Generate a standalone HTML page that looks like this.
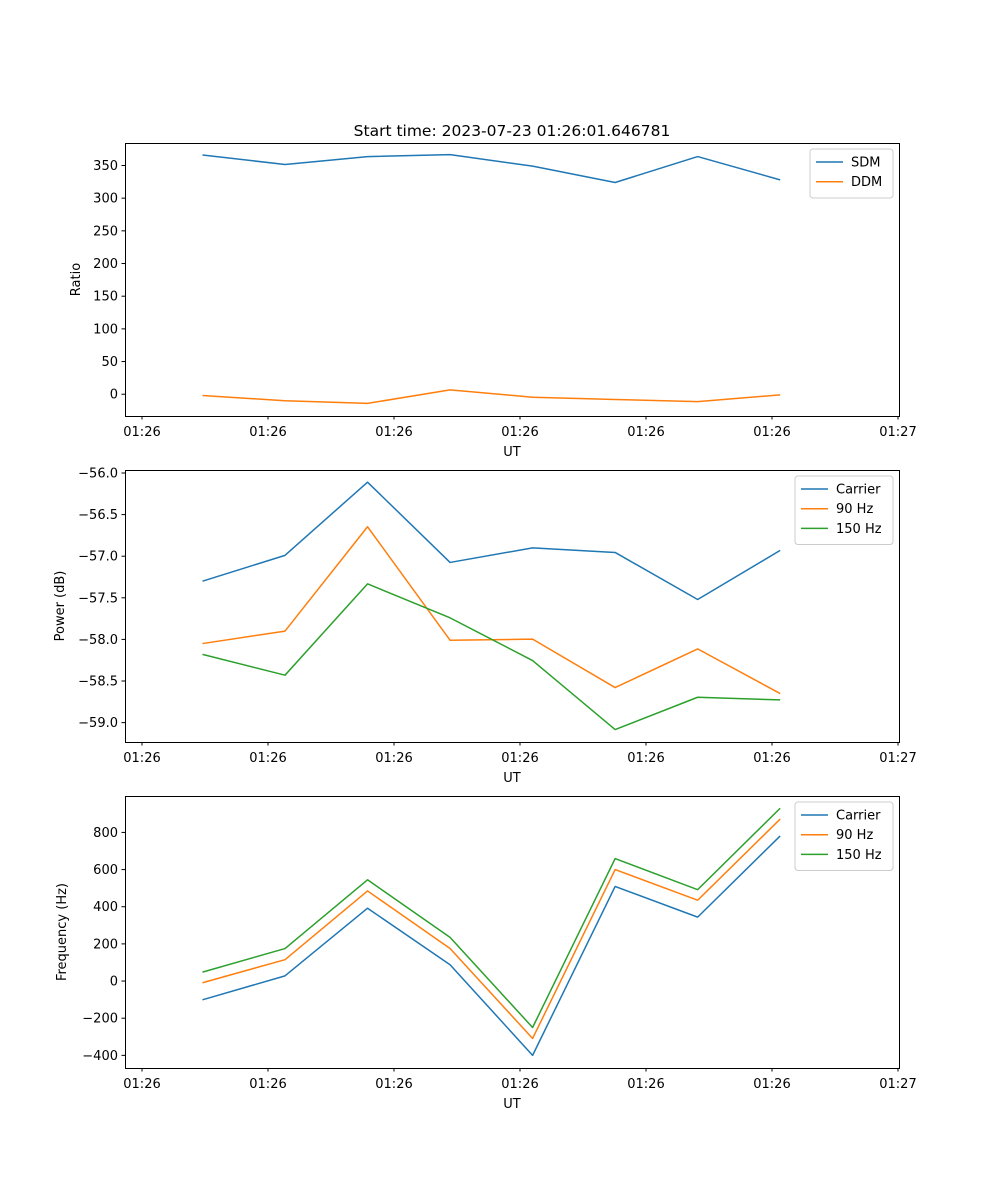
<!DOCTYPE html>
<html><head><meta charset="utf-8"><style>
body{margin:0;background:#fff}
svg{display:block;font-family:"DejaVu Sans","Liberation Sans",sans-serif}
</style></head><body>
<svg id="fig" width="1000" height="1200" viewBox="0 0 1000 1200">
<rect width="1000" height="1200" fill="#fff"/>
<text x="512" y="136" font-size="15.5" text-anchor="middle" fill="#000">Start time: 2023-07-23 01:26:01.646781</text>
</svg>
<script>
const times = [4.8, 11.35, 17.9, 24.45, 31.0, 37.55, 44.1, 50.65];
const xTickVals = [0, 10, 20, 30, 40, 50, 60];
const xTickLabels = ["01:26","01:26","01:26","01:26","01:26","01:26","01:27"];
const sdm = [366, 351.5, 363.6, 366.6, 349, 324, 363.6, 328];
const ddm = [-2, -10, -14, 6.7, -4.6, -8, -11.3, -1];
const powCarrier = [-57.30, -56.99, -56.11, -57.075, -56.90, -56.955, -57.52, -56.93];
const pow90 = [-58.05, -57.90, -56.646, -58.01, -57.997, -58.579, -58.114, -58.651];
const pow150 = [-58.18, -58.43, -57.332, -57.741, -58.254, -59.084, -58.695, -58.727];
const freqCarrier = [-101, 28, 392, 88, -400, 509, 344, 781];
const freq90 = [-9, 115, 485, 175, -309, 600, 435, 872];
const freq150 = [48, 175, 545, 235, -250, 659, 492, 930];
const ratioTicks = [0, 50, 100, 150, 200, 250, 300, 350];
const powerTicks = [-59.0, -58.5, -58.0, -57.5, -57.0, -56.5, -56.0];
const freqTicks = [-400, -200, 0, 200, 400, 600, 800];

const NS = "http://www.w3.org/2000/svg";
const svg = document.getElementById("fig");
function mk(tag, attrs, parent) {
  const e = document.createElementNS(NS, tag);
  for (const k in attrs) e.setAttribute(k, attrs[k]);
  (parent || svg).appendChild(e);
  return e;
}
const X0 = 125, X1 = 899, xMin = -1.35, xMax = 60.08;
function xs(t) { return X0 + (t - xMin) / (xMax - xMin) * (X1 - X0); }

function panel(cfg) {
  const g = mk("g", {});
  
  
  const ys = v => cfg.y1 - (v - cfg.min) / (cfg.max - cfg.min) * (cfg.y1 - cfg.y0);
  cfg.ticks.forEach((v, i) => {
    const y = ys(v);
    const l = mk("line", {x1: X0 - 3.5, x2: X0, y1: y, y2: y, stroke: "#000", "stroke-width": 1}, g);
    
    
    const t = mk("text", {x: X0 - 7, y: y + 4.5, "font-size": 13, "text-anchor": "end"}, g);
    
    
    t.textContent = cfg.fmt(v).replace("-", "\u2212");
  });
  xTickVals.forEach((v, i) => {
    const x = xs(v);
    const l = mk("line", {x1: x, x2: x, y1: cfg.y1, y2: cfg.y1 + 3.5, stroke: "#000", "stroke-width": 1}, g);
    
    
    const t = mk("text", {x: x, y: cfg.y1 + 20, "font-size": 13, "text-anchor": "middle"}, g);
    
    
    t.textContent = xTickLabels[i];
  });
  const xl = mk("text", {x: 512, y: cfg.y1 + 40, "font-size": 13, "text-anchor": "middle"}, g);
  
  
  xl.textContent = "UT";
  const cy = (cfg.y0 + cfg.y1) / 2;
  const yl = mk("text", {x: cfg.ylx, y: cy, "font-size": 13, "text-anchor": "middle", transform: `rotate(-90 ${cfg.ylx} ${cy})`}, g);
  
  
  yl.textContent = cfg.ylabel;
  cfg.series.forEach(s => {
    const p = mk("polyline", {points: s.data.map((v, i) => xs(times[i]).toFixed(2) + "," + ys(v).toFixed(2)).join(" "), fill: "none", stroke: s.color, "stroke-width": 1.5, "stroke-linejoin": "round"}, g);
    
    
  });
  const f = mk("rect", {x: X0 + 0.5, y: cfg.y0 + 0.5, width: X1 - X0, height: cfg.y1 - cfg.y0, fill: "none", stroke: "#000", "stroke-width": 1, "shape-rendering": "crispEdges"}, g);
  
  
  const n = cfg.series.length;
  const lw = cfg.legW, lx = X1 - 6 - lw, ly = cfg.y0 + 6;
  const lg = mk("g", {}, g);
  
  
  mk("rect", {x: lx, y: ly, width: lw, height: 10 + n * 19.5, rx: 3, fill: "#fff", "fill-opacity": 0.8, stroke: "#ccc", "stroke-width": 1}, lg);
  cfg.series.forEach((s, i) => {
    const yy = ly + 13 + i * 19.7;
    const e = mk("g", {}, lg);
    
    
    mk("line", {x1: lx + 6, x2: lx + 33, y1: yy, y2: yy, stroke: s.color, "stroke-width": 1.5}, e);
    const t = mk("text", {x: lx + 41, y: yy + 4.5, "font-size": 13}, e);
    t.textContent = s.label;
  });
}
const C1 = "#1f77b4", C2 = "#ff7f0e", C3 = "#2ca02c";
panel({name: "ratio-panel", y0: 143, y1: 416, min: -33.3, max: 384.4, ticks: ratioTicks, fmt: v => String(v), ylabel: "Ratio", ylx: 80, legW: 83,
  series: [{id: "sdm", label: "SDM", data: sdm, color: C1}, {id: "ddm", label: "DDM", data: ddm, color: C2}]});
panel({name: "power-panel", y0: 470, y1: 742, min: -59.233, max: -55.964, ticks: powerTicks, fmt: v => v.toFixed(1), ylabel: "Power (dB)", ylx: 64, legW: 98,
  series: [{id: "carrier", label: "Carrier", data: powCarrier, color: C1}, {id: "90hz", label: "90 Hz", data: pow90, color: C2}, {id: "150hz", label: "150 Hz", data: pow150, color: C3}]});
panel({name: "frequency-panel", y0: 796, y1: 1068, min: -468, max: 996, ticks: freqTicks, fmt: v => String(v), ylabel: "Frequency (Hz)", ylx: 66, legW: 98,
  series: [{id: "carrier", label: "Carrier", data: freqCarrier, color: C1}, {id: "90hz", label: "90 Hz", data: freq90, color: C2}, {id: "150hz", label: "150 Hz", data: freq150, color: C3}]});
</script>
</body></html>
